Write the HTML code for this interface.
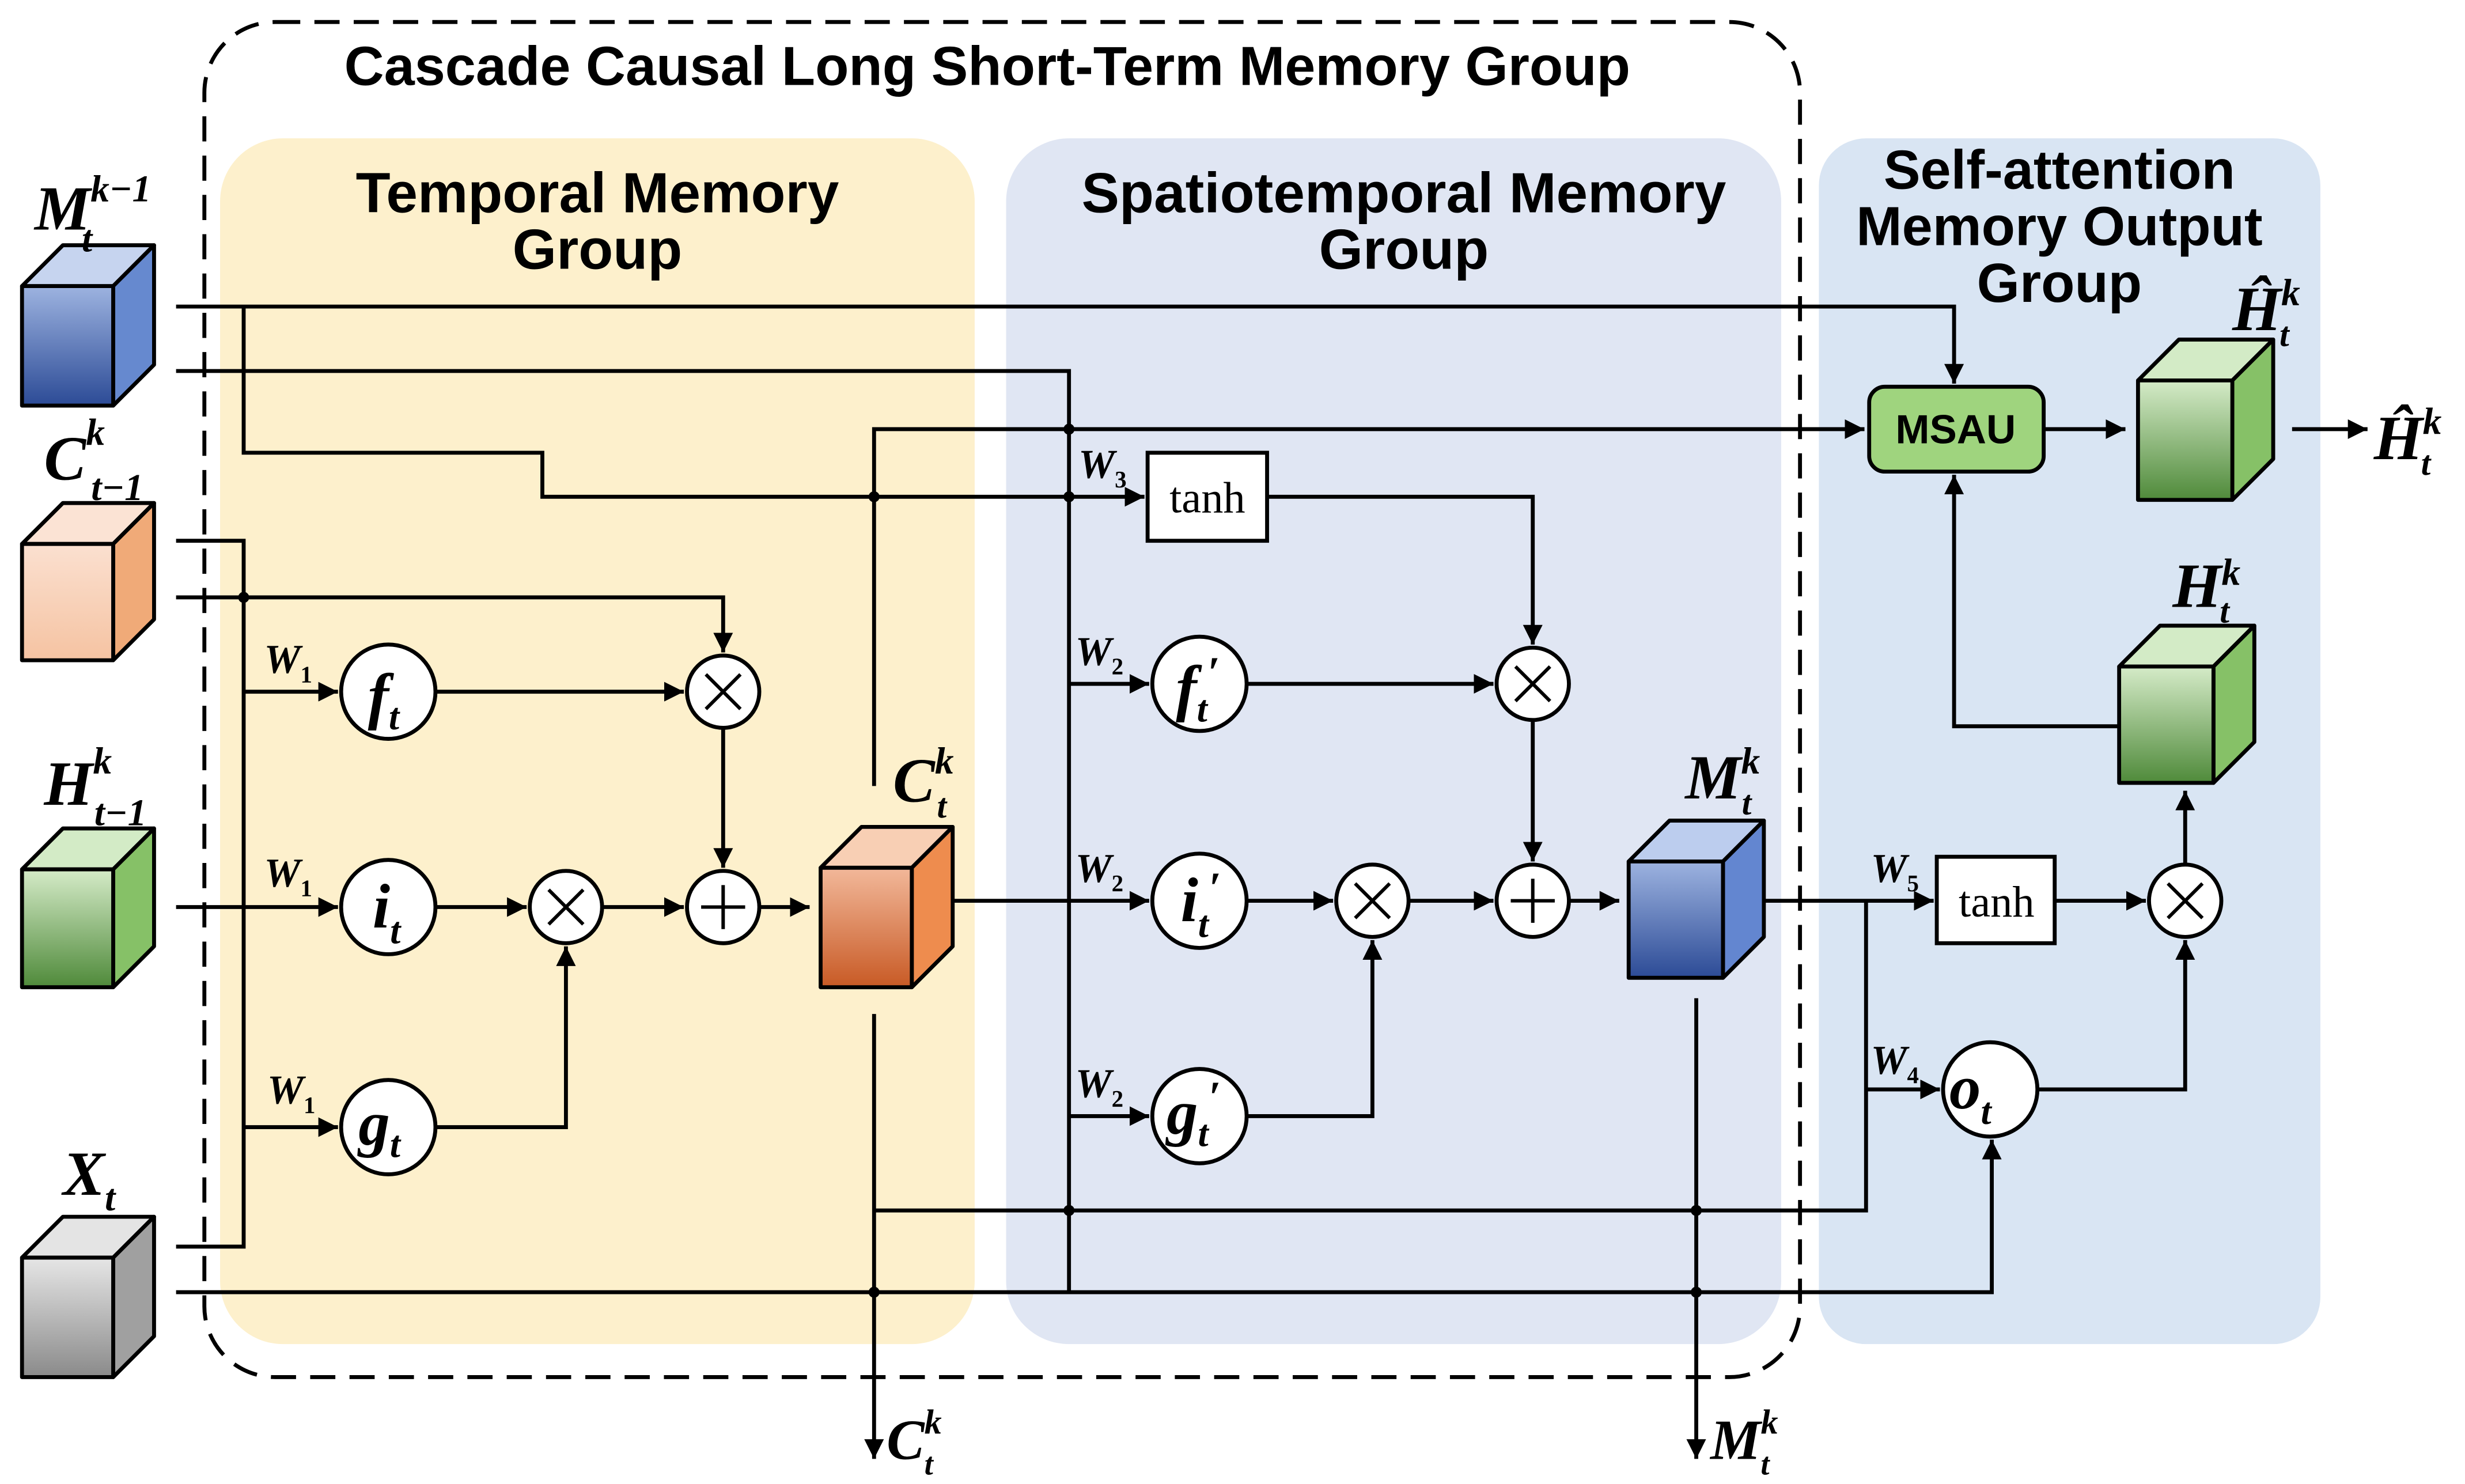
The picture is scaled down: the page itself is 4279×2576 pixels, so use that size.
<!DOCTYPE html>
<html><head><meta charset="utf-8"><style>
html,body{margin:0;padding:0;background:#fff;}
svg{display:block;}
.t{font-family:"Liberation Sans",sans-serif;font-weight:bold;fill:#000;}
.m{font-family:"Liberation Serif",serif;font-weight:bold;font-style:italic;fill:#000;}
.n{font-family:"Liberation Serif",serif;fill:#000;}
</style></head><body>
<svg width="4279" height="2576" viewBox="0 0 1568 944" preserveAspectRatio="none" xmlns="http://www.w3.org/2000/svg">
<defs>
<marker id="a" viewBox="0 0 10 10" refX="10" refY="5" markerWidth="5" markerHeight="5" orient="auto"><path d="M0,0L10,5L0,10z" fill="#000"/></marker>
<linearGradient id="gb" x1="0" y1="0" x2="0" y2="1"><stop offset="0" stop-color="#9db3e0"/><stop offset="1" stop-color="#2c4b96"/></linearGradient>
<linearGradient id="gp" x1="0" y1="0" x2="0" y2="1"><stop offset="0" stop-color="#fbe0d0"/><stop offset="1" stop-color="#f5c3a2"/></linearGradient>
<linearGradient id="gg" x1="0" y1="0" x2="0" y2="1"><stop offset="0" stop-color="#d5ebc8"/><stop offset="1" stop-color="#4f8a3a"/></linearGradient>
<linearGradient id="gx" x1="0" y1="0" x2="0" y2="1"><stop offset="0" stop-color="#e6e6e6"/><stop offset="1" stop-color="#8a8a8a"/></linearGradient>
<linearGradient id="go" x1="0" y1="0" x2="0" y2="1"><stop offset="0" stop-color="#f2b89a"/><stop offset="1" stop-color="#c85a25"/></linearGradient>
</defs>
<rect width="1568" height="944" fill="#fff"/>
<rect x="140" y="88" width="480" height="767" rx="40" fill="#fdf0cc"/>
<rect x="640" y="88" width="493" height="767" rx="40" fill="#e0e6f3"/>
<rect x="1157" y="88" width="319" height="767" rx="30" fill="#d9e5f3"/>
<rect x="130" y="14" width="1015" height="862" rx="45" fill="none" stroke="#000" stroke-width="2.5" stroke-dasharray="16,9"/>
<text class="t" x="628" y="54" font-size="35" text-anchor="middle">Cascade Causal Long Short-Term Memory Group</text>
<text class="t" x="380" y="135" font-size="36" text-anchor="middle">Temporal Memory</text>
<text class="t" x="380" y="171" font-size="36" text-anchor="middle">Group</text>
<text class="t" x="893" y="135" font-size="36" text-anchor="middle">Spatiotemporal Memory</text>
<text class="t" x="893" y="171" font-size="36" text-anchor="middle">Group</text>
<text class="t" x="1310" y="120" font-size="35" text-anchor="middle">Self-attention</text>
<text class="t" x="1310" y="156" font-size="35" text-anchor="middle">Memory Output</text>
<text class="t" x="1310" y="192" font-size="35" text-anchor="middle">Group</text>

<g stroke="#000" stroke-width="2.5" fill="none">
<polyline points="112,195 1243,195 1243,244" marker-end="url(#a)"/>
<polyline points="155,195 155,288 345,288 345,316 728,316" marker-end="url(#a)"/>
<polyline points="112,236 680,236 680,822"/>
<polyline points="680,435 731,435" marker-end="url(#a)"/>
<polyline points="680,710 731,710" marker-end="url(#a)"/>
<polyline points="112,344 155,344 155,793 112,793"/>
<polyline points="112,380 460,380 460,415" marker-end="url(#a)"/>
<polyline points="155,440 215,440" marker-end="url(#a)"/>
<polyline points="112,577 215,577" marker-end="url(#a)"/>
<polyline points="155,717 215,717" marker-end="url(#a)"/>
<polyline points="112,822 1267,822 1267,725" marker-end="url(#a)"/>
<polyline points="277,440 435,440" marker-end="url(#a)"/>
<polyline points="460,463 460,552" marker-end="url(#a)"/>
<polyline points="277,577 335,577" marker-end="url(#a)"/>
<polyline points="383,577 435,577" marker-end="url(#a)"/>
<polyline points="483,577 515,577" marker-end="url(#a)"/>
<polyline points="277,717 360,717 360,602" marker-end="url(#a)"/>
<polyline points="556,500 556,273 1186,273" marker-end="url(#a)"/>
<polyline points="556,645 556,928" marker-end="url(#a)"/>
<polyline points="556,770 1187,770 1187,573"/>
<polyline points="606,573 731,573" marker-end="url(#a)"/>
<polyline points="806,316 975,316 975,410" marker-end="url(#a)"/>
<polyline points="793,435 950,435" marker-end="url(#a)"/>
<polyline points="975,458 975,548" marker-end="url(#a)"/>
<polyline points="793,573 848,573" marker-end="url(#a)"/>
<polyline points="896,573 950,573" marker-end="url(#a)"/>
<polyline points="998,573 1030,573" marker-end="url(#a)"/>
<polyline points="793,710 873,710 873,598" marker-end="url(#a)"/>
<polyline points="1079,635 1079,928" marker-end="url(#a)"/>
<polyline points="1122,573 1230,573" marker-end="url(#a)"/>
<polyline points="1187,693 1234,693" marker-end="url(#a)"/>
<polyline points="1307,573 1365,573" marker-end="url(#a)"/>
<polyline points="1296,693 1390,693 1390,598" marker-end="url(#a)"/>
<polyline points="1390,550 1390,503" marker-end="url(#a)"/>
<polyline points="1348,462 1243,462 1243,302" marker-end="url(#a)"/>
<polyline points="1300,273 1352,273" marker-end="url(#a)"/>
<polyline points="1458,273 1506,273" marker-end="url(#a)"/>
</g>
<g fill="#000">
<circle cx="155" cy="380" r="3.5"/><circle cx="556" cy="316" r="3.5"/><circle cx="680" cy="273" r="3.5"/><circle cx="680" cy="316" r="3.5"/>
<circle cx="680" cy="770" r="3.5"/><circle cx="1079" cy="770" r="3.5"/><circle cx="556" cy="822" r="3.5"/><circle cx="1079" cy="822" r="3.5"/>
</g>
<g stroke="#000" stroke-width="2.5" fill="#fff">
<ellipse cx="247" cy="440" rx="30" ry="30"/><ellipse cx="247" cy="577" rx="30" ry="30"/><ellipse cx="247" cy="717" rx="30" ry="30"/>
<ellipse cx="763" cy="435" rx="30" ry="30"/><ellipse cx="763" cy="573" rx="30" ry="30"/><ellipse cx="763" cy="710" rx="30" ry="30"/>
<ellipse cx="1266" cy="693" rx="30" ry="30"/>
<circle cx="460" cy="440" r="23"/><circle cx="360" cy="577" r="23"/><circle cx="460" cy="577" r="23"/>
<circle cx="975" cy="435" r="23"/><circle cx="873" cy="573" r="23"/><circle cx="975" cy="573" r="23"/>
<circle cx="1390" cy="573" r="23"/>
<rect x="730" y="288" width="76" height="56"/>
<rect x="1232" y="545" width="75" height="55"/>
<rect x="1189" y="246" width="111" height="54" rx="10" fill="#9fd47e"/>
</g>
<g stroke="#000" stroke-width="2.2">
<path d="M449,429l22,22M471,429l-22,22M349,566l22,22M371,566l-22,22M964,424l22,22M986,424l-22,22M862,562l22,22M884,562l-22,22M1379,562l22,22M1401,562l-22,22"/>
<path d="M446,577h28M460,563v28M961,573h28M975,559v28"/>
</g>
<text class="t" x="1244" y="282" font-size="26" text-anchor="middle">MSAU</text>
<text class="n" x="768" y="326" font-size="28" text-anchor="middle">tanh</text>
<text class="n" x="1270" y="583" font-size="28" text-anchor="middle">tanh</text>
<g class="m" font-size="40">
<text x="234" y="456">f<tspan font-size="24" dy="8">t</tspan></text>
<text x="237" y="590">i<tspan font-size="24" dy="10">t</tspan></text>
<text x="228" y="728">g<tspan font-size="24" dy="8">t</tspan></text>
<text x="748" y="451">f<tspan font-size="24" dy="8">t</tspan><tspan font-size="28" dy="-22">′</tspan></text>
<text x="751" y="586">i<tspan font-size="24" dy="10">t</tspan><tspan font-size="28" dy="-22">′</tspan></text>
<text x="742" y="721">g<tspan font-size="24" dy="8">t</tspan><tspan font-size="28" dy="-22">′</tspan></text>
<text x="1240" y="705">o<tspan font-size="24" dy="10">t</tspan></text>
</g>
<g class="m" font-size="26">
<text x="168" y="428">W<tspan font-size="15" dy="6" font-style="normal">1</tspan></text>
<text x="168" y="564">W<tspan font-size="15" dy="6" font-style="normal">1</tspan></text>
<text x="170" y="702">W<tspan font-size="15" dy="6" font-style="normal">1</tspan></text>
<text x="684" y="423">W<tspan font-size="15" dy="6" font-style="normal">2</tspan></text>
<text x="684" y="561">W<tspan font-size="15" dy="6" font-style="normal">2</tspan></text>
<text x="684" y="698">W<tspan font-size="15" dy="6" font-style="normal">2</tspan></text>
<text x="686" y="304">W<tspan font-size="15" dy="6" font-style="normal">3</tspan></text>
<text x="1190" y="683">W<tspan font-size="15" dy="6" font-style="normal">4</tspan></text>
<text x="1190" y="561">W<tspan font-size="15" dy="6" font-style="normal">5</tspan></text>
</g>
<g stroke="#000" stroke-width="2.5" stroke-linejoin="round">
<path d="M14,182l26,-26h58l-26,26z" fill="#c6d4ef"/><path d="M72,182l26,-26v76l-26,26z" fill="#6689cf"/><rect x="14" y="182" width="58" height="76" fill="url(#gb)"/>
<path d="M14,346l26,-26h58l-26,26z" fill="#fbe3d4"/><path d="M72,346l26,-26v74l-26,26z" fill="#f0aa78"/><rect x="14" y="346" width="58" height="74" fill="url(#gp)"/>
<path d="M14,553l26,-26h58l-26,26z" fill="#d3ebc6"/><path d="M72,553l26,-26v75l-26,26z" fill="#86c167"/><rect x="14" y="553" width="58" height="75" fill="url(#gg)"/>
<path d="M14,800l26,-26h58l-26,26z" fill="#e4e4e4"/><path d="M72,800l26,-26v76l-26,26z" fill="#a0a0a0"/><rect x="14" y="800" width="58" height="76" fill="url(#gx)"/>
<path d="M522,552l26,-26h58l-26,26z" fill="#f8cfb4"/><path d="M580,552l26,-26v76l-26,26z" fill="#ee8c4e"/><rect x="522" y="552" width="58" height="76" fill="url(#go)"/>
<path d="M1036,548l26,-26h60l-26,26z" fill="#bccdee"/><path d="M1096,548l26,-26v74l-26,26z" fill="#6386d0"/><rect x="1036" y="548" width="60" height="74" fill="url(#gb)"/>
<path d="M1360,242l26,-26h60l-26,26z" fill="#d3ebc6"/><path d="M1420,242l26,-26v76l-26,26z" fill="#86c167"/><rect x="1360" y="242" width="60" height="76" fill="url(#gg)"/>
<path d="M1348,424l26,-26h60l-26,26z" fill="#d3ebc6"/><path d="M1408,424l26,-26v74l-26,26z" fill="#86c167"/><rect x="1348" y="424" width="60" height="74" fill="url(#gg)"/>
</g>
<g class="m" font-size="40">
<text x="22" y="146">M<tspan font-size="24" dy="-18">k</tspan><tspan font-size="24">−1</tspan></text>
<text x="52" y="160" font-size="24">t</text>
<text x="28" y="305">C<tspan font-size="24" dy="-22">k</tspan></text>
<text x="58" y="318" font-size="24">t−1</text>
<text x="28" y="512">H<tspan font-size="24" dy="-20">k</tspan></text>
<text x="60" y="525" font-size="24">t−1</text>
<text x="40" y="760">X<tspan font-size="24" dy="10">t</tspan></text>
<text x="568" y="510">C<tspan font-size="24" dy="-18">k</tspan></text>
<text x="596" y="520" font-size="22">t</text>
<text x="1072" y="508">M<tspan font-size="24" dy="-16">k</tspan></text>
<text x="1108" y="518" font-size="22">t</text>
<text x="1420" y="210">Ĥ<tspan font-size="24" dy="-16">k</tspan></text>
<text x="1450" y="220" font-size="22">t</text>
<text x="1382" y="386">H<tspan font-size="24" dy="-14">k</tspan></text>
<text x="1412" y="396" font-size="22">t</text>
<text x="1510" y="292">Ĥ<tspan font-size="24" dy="-16">k</tspan></text>
<text x="1540" y="302" font-size="22">t</text>
<text x="564" y="928" font-size="36">C<tspan font-size="22" dy="-16">k</tspan></text>
<text x="588" y="938" font-size="20">t</text>
<text x="1088" y="928" font-size="36">M<tspan font-size="22" dy="-16">k</tspan></text>
<text x="1120" y="938" font-size="20">t</text>
</g>
</svg>
</body></html>
